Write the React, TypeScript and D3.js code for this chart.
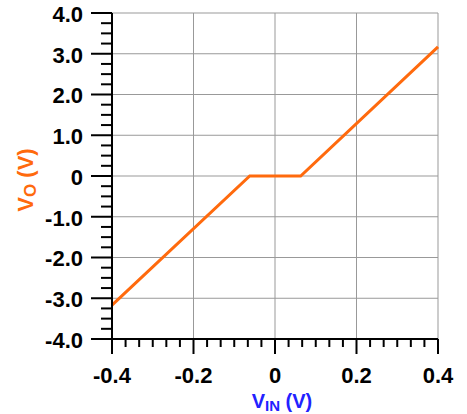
import React from 'react';
import * as d3 from 'd3';

// transfer curve
const vin = [-0.4, -0.062, 0.063, 0.4];
const vout = [-3.17, 0, 0, 3.17];
const xTicks = [-0.4, -0.2, 0, 0.2, 0.4];
const xTickLabels = ['-0.4', '-0.2', '0', '0.2', '0.4'];
const yTicks = [4, 3, 2, 1, 0, -1, -2, -3, -4];
const yTickLabels = ['4.0', '3.0', '2.0', '1.0', '0', '-1.0', '-2.0', '-3.0', '-4.0'];

const W = 467;
const H = 414;
const M = { top: 13, right: 29, bottom: 75, left: 112 };

export default function App() {
  const x = d3.scaleLinear().domain([-0.4, 0.4]).range([M.left, W - M.right]);
  const y = d3.scaleLinear().domain([-4, 4]).range([H - M.bottom, M.top]);

  const xMinor = d3.range(0, 25).map((i) => -0.4 + i * (0.8 / 24)).filter((_, i) => i % 6 !== 0);
  const yMinor = d3.range(0, 33).map((i) => -4 + i * 0.25).filter((_, i) => i % 4 !== 0);

  const line = d3.line<number>()
    .x((_, i) => x(vin[i]))
    .y((d) => y(d));

  const font = 'Liberation Sans, Arial, sans-serif';
  const x0 = x(-0.4);
  const y0 = y(-4);

  return (
    <svg width={W} height={H} style={{ position: 'absolute', left: 0, top: 0 }} fontFamily={font}>
      {/* grid */}
      {xTicks.slice(1).map((t) => (
        <line key={'gx' + t} x1={x(t)} x2={x(t)} y1={y(4)} y2={y0} stroke="#999" strokeWidth={1} />
      ))}
      {yTicks.slice(0, -1).map((t) => (
        <line key={'gy' + t} x1={x0} x2={x(0.4)} y1={y(t)} y2={y(t)} stroke="#999" strokeWidth={1} />
      ))}

      {/* data */}
      <path d={line(vout) || ''} fill="none" stroke="#ff6a0d" strokeWidth={3} />

      {/* y axis */}
      <line x1={x0} x2={x0} y1={y(4)} y2={y0 + 1} stroke="#000" strokeWidth={2} />
      {yTicks.map((t) => (
        <line key={'ty' + t} x1={x0 - 21} x2={x0} y1={y(t)} y2={y(t)} stroke="#000" strokeWidth={2} />
      ))}
      {yMinor.map((t) => (
        <line key={'my' + t} x1={x0 - 11} x2={x0} y1={y(t)} y2={y(t)} stroke="#000" strokeWidth={2} />
      ))}
      {yTicks.map((t, i) => (
        <text key={'ly' + t} x={x0 - 29} y={y(t) + 8.8} textAnchor="end" fontSize={22} fontWeight="bold">
          {yTickLabels[i]}
        </text>
      ))}

      {/* x axis */}
      <line x1={x0 - 1} x2={x(0.4)} y1={y0} y2={y0} stroke="#000" strokeWidth={2} />
      {xTicks.map((t) => (
        <line key={'tx' + t} x1={x(t)} x2={x(t)} y1={y0} y2={y0 + 15} stroke="#000" strokeWidth={2} />
      ))}
      {xMinor.map((t) => (
        <line key={'mx' + t} x1={x(t)} x2={x(t)} y1={y0} y2={y0 + 8} stroke="#000" strokeWidth={2} />
      ))}
      {xTicks.map((t, i) => (
        <text key={'lx' + t} x={x(t)} y={383} textAnchor="middle" fontSize={22} fontWeight="bold">
          {xTickLabels[i]}
        </text>
      ))}

      {/* axis titles */}
      <text x={282} y={408} textAnchor="middle" fontSize={20} fontWeight="bold" fill="#2222ff">
        V<tspan fontSize={15} dy={3}>IN</tspan>
        <tspan dy={-3}> (V)</tspan>
      </text>
      <text
        transform={`translate(33, ${y(0) + 4}) rotate(-90)`}
        textAnchor="middle"
        fontSize={22}
        fontWeight="bold"
        fill="#ff6a0d"
      >
        V<tspan fontSize={17} dy={3}>O</tspan>
        <tspan dy={-3}> (V)</tspan>
      </text>
    </svg>
  );
}
